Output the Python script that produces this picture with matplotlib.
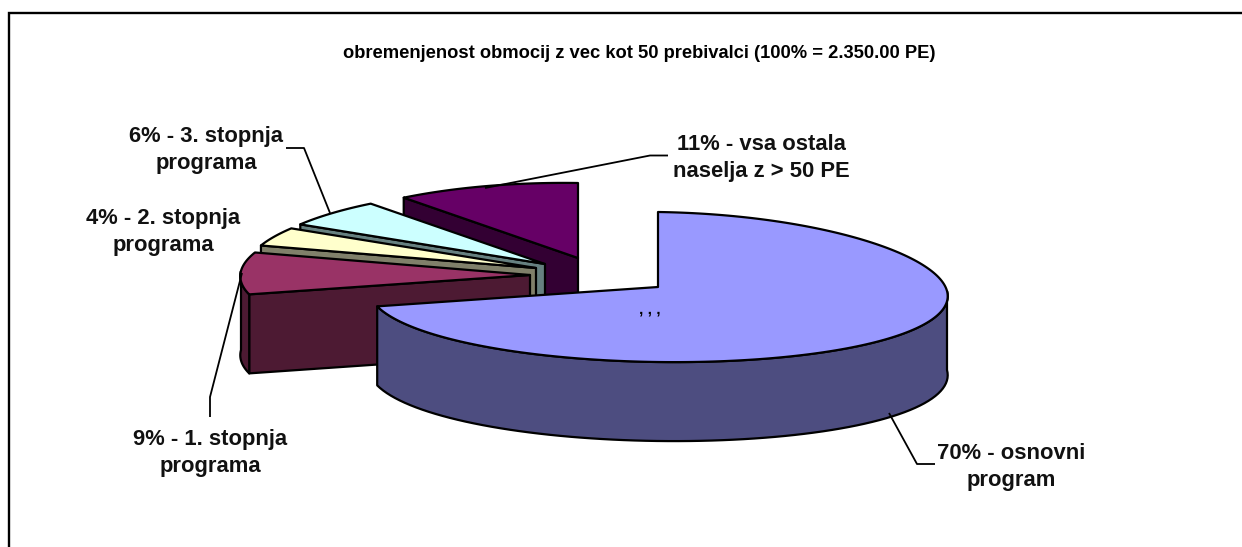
import numpy as np
import matplotlib
matplotlib.use('Agg')
import matplotlib.pyplot as plt
from matplotlib.patches import Polygon

title = 'obremenjenost obmocij z vec kot 50 prebivalci (100% = 2.350.00 PE)'
shares = [70, 9, 4, 6, 11]
labels = ['70% - osnovni\nprogram', '9% - 1. stopnja\nprograma', '4% - 2. stopnja\nprograma',
          '6% - 3. stopnja\nprograma', '11% - vsa ostala\nnaselja z > 50 PE']
top_colors = ['#9999FF', '#993366', '#FFFFCC', '#CCFFFF', '#660066']
side_colors = ['#4D4D80', '#4D1A33', '#80806A', '#668080', '#330033']

# where each slice sits after the explosion, in pixels
apex_x = [658, 530, 536, 545, 578]
apex_y = [287, 275, 268, 264, 258]
label_x = [1011, 210, 163, 206, 761]
label_y = [467, 453, 232, 150, 158]
leader_x = [[889, 917, 935], [242, 210, 210], [], [330, 304, 286], [485, 650, 668]]
leader_y = [[413, 464, 464], [273, 397, 417], [], [213, 148, 148], [188, 155.5, 155.5]]

RX, RY, DEPTH = 289, 75, 79

plt.rcParams['font.family'] = ['Liberation Sans', 'DejaVu Sans']
fig = plt.figure(figsize=(12.42, 5.47), dpi=100)
ax = fig.add_axes([0, 0, 1, 1])
ax.set_xlim(0, 1242)
ax.set_ylim(547, 0)
ax.axis('off')


def rim(t, cx, cy):
    r = np.radians(t)
    # a little perspective: the far side is narrower, the near side wider
    x = cx + RX * np.sin(r) * (1 - 0.07 * np.cos(r))
    y = cy - RY * np.cos(r) + 4 * np.sin(r)
    return np.column_stack([x, y])


def face(points, color):
    ax.add_patch(Polygon(points, closed=True, facecolor=color, edgecolor='black',
                         linewidth=1.6, joinstyle='round'))


edges = np.cumsum([0] + shares) / sum(shares) * 360
down = np.array([0, DEPTH])

# back slices first, the big one goes on top of them
for i in reversed(range(len(shares))):
    t1, t2 = edges[i], edges[i + 1]
    apex = np.array([apex_x[i], apex_y[i]])
    if i > 0:
        p = rim(t1, *apex)[0]
        face([apex, p, p + down, apex + down], side_colors[i])
    lo, hi = max(t1, 90), min(t2, 270)
    if lo < hi:
        arc = rim(np.linspace(lo, hi, 80), *apex)
        face(np.vstack([arc, arc[::-1] + down]), side_colors[i])
    arc = rim(np.linspace(t1, t2, 200), *apex)
    face(np.vstack([apex, arc]), top_colors[i])

for xs, ys in zip(leader_x, leader_y):
    if xs:
        ax.plot(xs, ys, color='black', linewidth=1.3, solid_capstyle='butt')

for text, x, y in zip(labels, label_x, label_y):
    ax.text(x, y, text, ha='center', va='center', fontsize=15.8, fontweight='bold',
            linespacing=1.36, color='#111111')

ax.text(639, 53, title, ha='center', va='center', fontsize=13.2, fontweight='bold', color='black')
ax.text(650, 309, ', , ,', ha='center', va='center', fontsize=11, fontweight='bold', color='black')

# chart frame, only top and left are inside the picture
ax.plot([8.5, 8.5, 1242], [547, 12.5, 12.5], color='black', linewidth=1.7, solid_joinstyle='miter')

fig.savefig('out.png', dpi=100)
